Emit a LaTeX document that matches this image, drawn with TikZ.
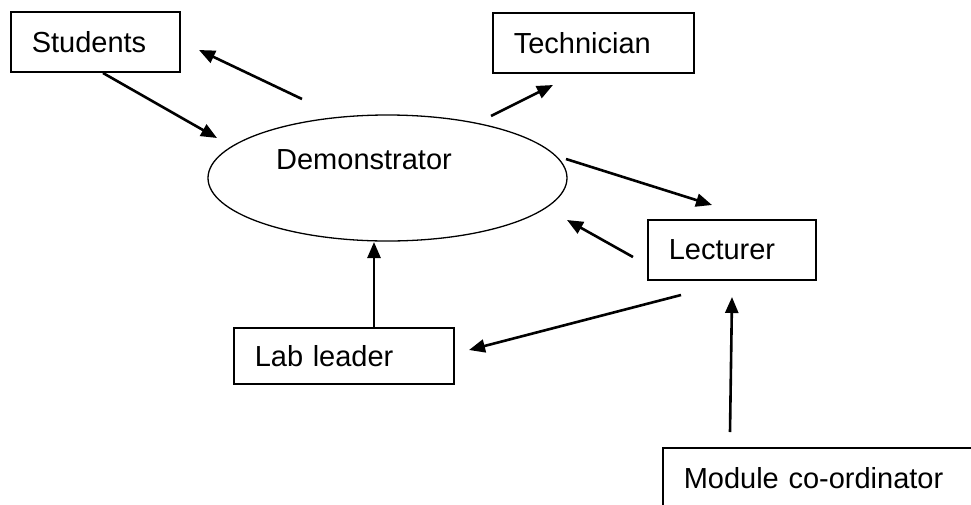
\documentclass[tikz,border=0pt]{standalone}
\usepackage{fontspec}
\setmainfont{Liberation Sans}
\usetikzlibrary{arrows.meta,shapes.geometric}
\begin{document}
\begin{tikzpicture}[x=1pt, y=-1pt, font=\fontsize{29}{35}\selectfont]
	\tikzstyle{block} = [rectangle,draw,line width=1.5pt,anchor=west,align=left,inner xsep=21pt,inner ysep=0pt,minimum height=60pt]
	\tikzstyle{flow} = [line width=2.6pt,-{Triangle[length=16pt,width=13pt]}]
	\clip (0,0) rectangle (971,504);
	\node[block,text width=127pt](students)at (10,42){Students};
	\node[block,text width=159pt](technician)at (492,43){Technician};
	\node[block,text width=126pt](lecturer)at (647,250){Lecturer};
	\node[block,text width=178pt,minimum height=56pt](lableader)at (233,356){Lab leader};
	\node[block,text width=298pt](module)at (662,478){Module co-ordinator};
	\node[ellipse,draw,line width=1.3pt,minimum width=359pt,minimum height=126pt,inner sep=0pt,
		label={[xshift=-23.5pt,yshift=18pt]center:Demonstrator}](demo)at (387.5,178){};
	% loose arrow ends
	\coordinate (demo-s) at (302,99);   \coordinate (students-in) at (199,50);
	\coordinate (students-out) at (103,73); \coordinate (demo-in-s) at (217,138);
	\coordinate (demo-t) at (491,116);  \coordinate (technician-in) at (553,85);
	\coordinate (demo-l) at (566,159);  \coordinate (lecturer-in) at (712,205);
	\coordinate (lecturer-d) at (633,257); \coordinate (demo-in-l) at (567,220);
	\coordinate (lableader-out) at (374,328); \coordinate (demo-in-b) at (374,242);
	\coordinate (lecturer-b) at (681,295); \coordinate (lableader-in) at (469,350);
	\coordinate (module-out) at (730,432); \coordinate (lecturer-in-b) at (732,297);
	\path[flow] (demo-s) edge (students-in)
	(students-out) edge (demo-in-s)
	(demo-t) edge (technician-in)
	(demo-l) edge (lecturer-in)
	(lecturer-d) edge (demo-in-l)
	(lableader-out) edge (demo-in-b)
	(lecturer-b) edge (lableader-in)
	(module-out) edge (lecturer-in-b);
\end{tikzpicture}
\end{document}
